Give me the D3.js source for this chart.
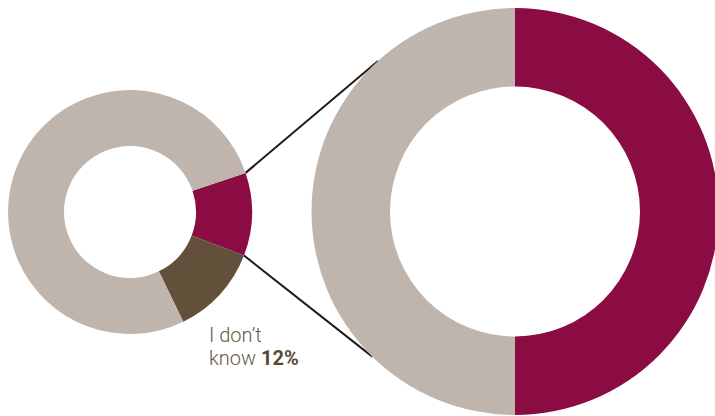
<!DOCTYPE html>
<html>
<head>
<meta charset="utf-8">
<script src="https://cdn.jsdelivr.net/npm/d3@7"></script>
<style>
  html, body { margin: 0; padding: 0; background: #ffffff; }
  svg { display: block; }
</style>
</head>
<body>
<svg id="chart" width="715" height="416"></svg>
<script>
// Overall answers (small ring) and the breakdown of the highlighted share (large ring)
const mainCategories = ["Yes", "I don’t know", "No"];
const mainValues = [11, 12, 77];
const mainColors = ["#8b0c42", "#62503a", "#c0b5ac"];

const detailCategories = ["Part A", "Part B"];
const detailValues = [50, 50];
const detailColors = ["#8b0c42", "#c0b5ac"];

const labelLines = ["I don’t", "know"];
const labelValue = "12%";

const svg = d3.select("#chart");

const small = { cx: 130, cy: 212, r0: 66, r1: 122 };
const big = { cx: 515, cy: 211.5, r0: 125, r1: 203.5 };

const deg = Math.PI / 180;
const smallPie = d3.pie().sort(null).startAngle(71.3 * deg).endAngle(71.3 * deg + 2 * Math.PI);
const bigPie = d3.pie().sort(null);

const smallArcs = smallPie(mainValues);
const bigArcs = bigPie(detailValues);

// Connector lines: from the highlighted slice's outer corners to the rim of the large ring
function polar(c, r, a) {
  return [c.cx + r * Math.sin(a), c.cy - r * Math.cos(a)];
}
const hi = smallArcs[0];
const pTop = polar(small, small.r1, hi.startAngle);
const pBot = polar(small, small.r1, hi.endAngle);
const tTop = polar(big, big.r1, -42.3 * deg);
const tBot = polar(big, big.r1, 224.5 * deg);

svg.append("g")
  .selectAll("line")
  .data([[pTop, tTop], [pBot, tBot]])
  .join("line")
  .attr("x1", d => d[0][0]).attr("y1", d => d[0][1])
  .attr("x2", d => d[1][0]).attr("y2", d => d[1][1])
  .attr("stroke", "#1f1a17")
  .attr("stroke-width", 2);

// Small ring
const smallArc = d3.arc().innerRadius(small.r0).outerRadius(small.r1);
svg.append("g")
  .attr("transform", `translate(${small.cx},${small.cy})`)
  .selectAll("path")
  .data(smallArcs)
  .join("path")
  .attr("d", smallArc)
  .attr("fill", (d, i) => mainColors[i]);

// Large ring
const bigArc = d3.arc().innerRadius(big.r0).outerRadius(big.r1);
svg.append("g")
  .attr("transform", `translate(${big.cx},${big.cy})`)
  .selectAll("path")
  .data(bigArcs)
  .join("path")
  .attr("d", bigArc)
  .attr("fill", (d, i) => detailColors[i]);

// Label for the "I don't know" slice
const lx = 209;
const label = svg.append("text")
  .attr("x", lx)
  .attr("y", 342)
  .attr("font-family", "Roboto, 'Open Sans', sans-serif")
  .attr("font-size", 20)
  .attr("font-weight", 300)
  .attr("fill", "#65584b");
label.append("tspan").attr("x", lx).attr("dy", 0).text(labelLines[0]);
label.append("tspan").attr("x", lx).attr("dy", 23).text(labelLines[1] + " ");
label.append("tspan")
  .attr("font-weight", 700)
  .attr("fill", "#5b4835")
  .text(labelValue);
</script>
</body>
</html>
